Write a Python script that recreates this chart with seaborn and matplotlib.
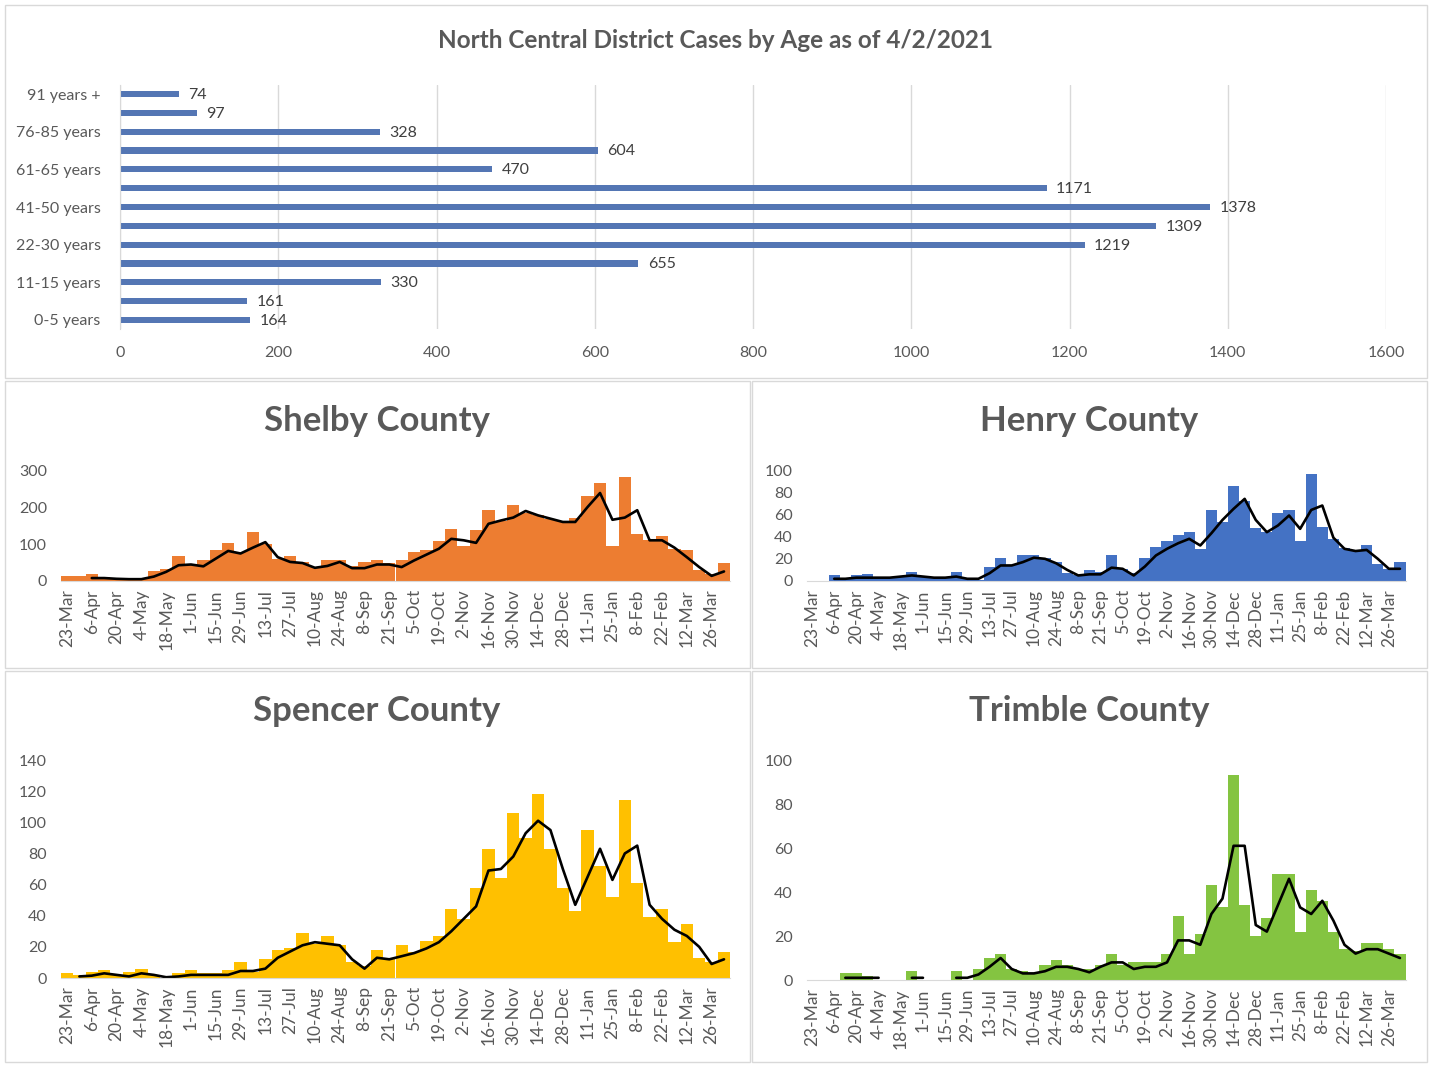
import numpy as np
import seaborn as sns
import matplotlib
matplotlib.use("Agg")
import matplotlib.pyplot as plt
from matplotlib.patches import Rectangle

W, H = 1432, 1065
nan = np.nan

# age groups, listed top to bottom as drawn
age_groups = ["91 years +", "86-90 years", "76-85 years", "66-75 years", "61-65 years",
              "51-60 years", "41-50 years", "31-40 years", "22-30 years", "16-21 years",
              "11-15 years", "6-10 years", "0-5 years"]
age_cases = [74, 97, 328, 604, 470, 1171, 1378, 1309, 1219, 655, 330, 161, 164]

weeks = ["23-Mar", "30-Mar", "6-Apr", "13-Apr", "20-Apr", "27-Apr", "4-May", "11-May",
         "18-May", "25-May", "1-Jun", "8-Jun", "15-Jun", "22-Jun", "29-Jun", "6-Jul",
         "13-Jul", "20-Jul", "27-Jul", "3-Aug", "10-Aug", "17-Aug", "24-Aug", "31-Aug",
         "8-Sep", "14-Sep", "21-Sep", "28-Sep", "5-Oct", "12-Oct", "19-Oct", "26-Oct",
         "2-Nov", "9-Nov", "16-Nov", "23-Nov", "30-Nov", "7-Dec", "14-Dec", "21-Dec",
         "28-Dec", "4-Jan", "11-Jan", "18-Jan", "25-Jan", "1-Feb", "8-Feb", "15-Feb",
         "22-Feb", "1-Mar", "12-Mar", "19-Mar", "26-Mar", "2-Apr"]

shelby_cases = [14, 14, 18, 10, 8, 8, 8, 28, 33, 68, 47, 57, 84, 104, 78, 134, 100, 59,
                68, 52, 38, 58, 58, 40, 52, 58, 50, 56, 79, 85, 109, 143, 95, 138, 193,
                165, 208, 185, 180, 170, 165, 172, 233, 267, 95, 284, 129, 111, 122, 88,
                84, 29, 18, 49]
shelby_avg = [nan, nan, 8, 8, 6, 5, 5, 12, 25, 43, 45, 40, 61, 82, 75, 91, 106, 65, 52,
              49, 36, 41, 52, 35, 35, 45, 45, 38, 56, 72, 88, 115, 111, 104, 156, 165,
              173, 191, 179, 170, 161, 161, 202, 240, 167, 173, 193, 111, 111, 91, 65,
              38, 14, 26]

henry_cases = [0, 0, 5, 2, 5, 6, 4, 4, 4, 8, 4, 3, 3, 8, 2, 1, 13, 21, 14, 23, 23, 21,
               17, 7, 5, 10, 8, 23, 11, 7, 21, 31, 36, 41, 44, 29, 64, 53, 86, 72, 48,
               44, 61, 64, 36, 96, 49, 38, 30, 28, 32, 15, 11, 17]
henry_avg = [nan, nan, 2, 2, 3, 3, 3, 3, 4, 5, 4, 3, 3, 4, 2, 2, 7, 14, 14, 17, 21, 20,
             16, 10, 5, 6, 6, 12, 11, 5, 13, 23, 29, 34, 38, 32, 43, 55, 65, 74, 55, 44,
             50, 59, 47, 64, 68, 39, 29, 27, 28, 20, 11, 11]

spencer_cases = [3, 2, 4, 5, 2, 4, 6, 2, 0, 3, 5, 3, 3, 5, 10, 4, 12, 18, 19, 29, 22, 27,
                 21, 10, 8, 18, 13, 21, 17, 24, 27, 44, 38, 58, 83, 64, 106, 90, 118, 83,
                 58, 43, 95, 72, 52, 114, 61, 39, 44, 23, 35, 13, 10, 17]
spencer_avg = [nan, 1, 1.5, 3, 2, 1, 3, 2, 0.5, 1, 2, 2, 2, 2, 4.5, 4.5, 6, 13, 17, 21,
               23, 22, 21, 12, 6, 13, 12, 14, 16, 19, 23, 30, 38, 46, 69, 70, 78, 93, 101,
               95, 70, 47, 65, 83, 63, 80, 85, 47, 38, 31, 27, 20, 9, 12]

trimble_cases = [0, 0, 0, 3, 3, 2, 0, 0, 0, 4, 0, 0, 0, 4, 0, 5, 10, 12, 5, 4, 3, 7, 9,
                 7, 5, 5, 7, 12, 7, 8, 8, 8, 12, 29, 12, 21, 43, 33, 93, 34, 20, 28, 48,
                 48, 22, 41, 36, 22, 14, 13, 17, 17, 14, 12]
trimble_avg = [nan, nan, nan, 1, 1, 1, 1, nan, nan, 1, 1, nan, nan, 1, 1, 2.5, 6, 10, 5,
               3, 3, 4, 6, 6, 5, 3.5, 6, 8, 8, 5, 6, 6, 8, 18, 18, 16, 30, 37, 61, 61,
               25, 22, 34, 46, 33, 30, 36, 27, 16, 12, 14, 14, 12, 10]

TEXT = "#595959"
GRID = "#D9D9D9"


def px_rect(x0, y0, x1, y1):
    """Pixel box (top-left origin) to figure fraction rect."""
    return [x0 / W, 1 - y1 / H, (x1 - x0) / W, (y1 - y0) / H]


def draw_age_chart(fig):
    """Horizontal bar chart of cases by age group."""
    ax = fig.add_axes(px_rect(120, 84.6, 1386, 329.4))
    sns.barplot(x=age_cases, y=age_groups, order=age_groups, color="#4472C4",
                width=0.32, linewidth=0, ax=ax)
    ax.set_xlim(0, 1600)
    ax.set_xticks(range(0, 1601, 200))
    ax.xaxis.grid(True, color=GRID, lw=1)
    ax.set_axisbelow(True)
    ax.set_xlabel("")
    ax.set_ylabel("")
    ax.set_yticks(range(len(age_groups)))
    ax.set_yticklabels([g if i % 2 == 0 else "" for i, g in enumerate(age_groups)])
    ax.tick_params(length=0, labelsize=11.5, colors=TEXT)
    ax.tick_params(axis="y", pad=14)
    ax.tick_params(axis="x", pad=12)
    for s in ["top", "right", "bottom"]:
        ax.spines[s].set_visible(False)
    ax.spines["left"].set_color(GRID)
    for i, v in enumerate(age_cases):
        ax.text(v + 12, i + 0.05, str(v), va="center", ha="left", fontsize=11.5,
                color="#404040")
    fig.text(715 / W, 1 - 40 / H, "North Central District Cases by Age as of 4/2/2021",
             ha="center", va="center", fontsize=17.5, fontweight="bold", color=TEXT)


def draw_county(fig, rect, cases, avg, color, ymax, step, title, title_xy):
    """Weekly cases with the black average line."""
    ax = fig.add_axes(px_rect(*rect))
    sns.barplot(x=weeks, y=cases, order=weeks, color=color, width=1.0,
                linewidth=0, saturation=1, ax=ax)
    ax.plot(range(len(weeks)), avg, color="black", lw=1.9)
    ax.set_xlim(-0.5, len(weeks) - 0.5)
    ax.set_ylim(0, ymax)
    ax.set_yticks(range(0, ymax + 1, step))
    ax.set_xticks(range(0, len(weeks), 2))
    ax.set_xticklabels(weeks[::2], rotation=90)
    ax.set_xlabel("")
    ax.set_ylabel("")
    ax.tick_params(length=0, colors=TEXT)
    ax.tick_params(axis="x", labelsize=12.5, pad=6)
    ax.tick_params(axis="y", labelsize=11.5, pad=10)
    for s in ["top", "right", "left"]:
        ax.spines[s].set_visible(False)
    ax.spines["bottom"].set_color(GRID)
    fig.text(title_xy[0] / W, 1 - title_xy[1] / H, title, ha="center", va="center",
             fontsize=25, fontweight="bold", color=TEXT)


def draw_frames(fig):
    """Light gray borders around each chart box."""
    for x0, y0, x1, y1 in [(5, 5, 1427, 378), (5, 381, 750, 668), (752, 381, 1427, 668),
                           (5, 671, 750, 1062), (752, 671, 1427, 1062)]:
        fig.add_artist(Rectangle((x0 / W, 1 - y1 / H), (x1 - x0) / W, (y1 - y0) / H,
                                 transform=fig.transFigure, fill=False, ec=GRID, lw=1))


if __name__ == "__main__":
    sns.set_style("white")
    plt.rcParams["font.family"] = ["Lato", "DejaVu Sans"]

    fig = plt.figure(figsize=(W / 100, H / 100), dpi=100)
    draw_frames(fig)
    draw_age_chart(fig)
    draw_county(fig, (60.8, 471, 730.2, 581), shelby_cases, shelby_avg, "#ED7D31",
                300, 100, "Shelby County", (377, 421))
    draw_county(fig, (806.5, 470, 1405.5, 581), henry_cases, henry_avg, "#4472C4",
                100, 20, "Henry County", (1089, 421))
    draw_county(fig, (60.8, 760, 730.2, 978), spencer_cases, spencer_avg, "#FFC000",
                140, 20, "Spencer County", (377, 711))
    draw_county(fig, (806.5, 760, 1405.5, 980), trimble_cases, trimble_avg, "#84C441",
                100, 20, "Trimble County", (1089, 711))
    fig.savefig("out.png", dpi=100)
